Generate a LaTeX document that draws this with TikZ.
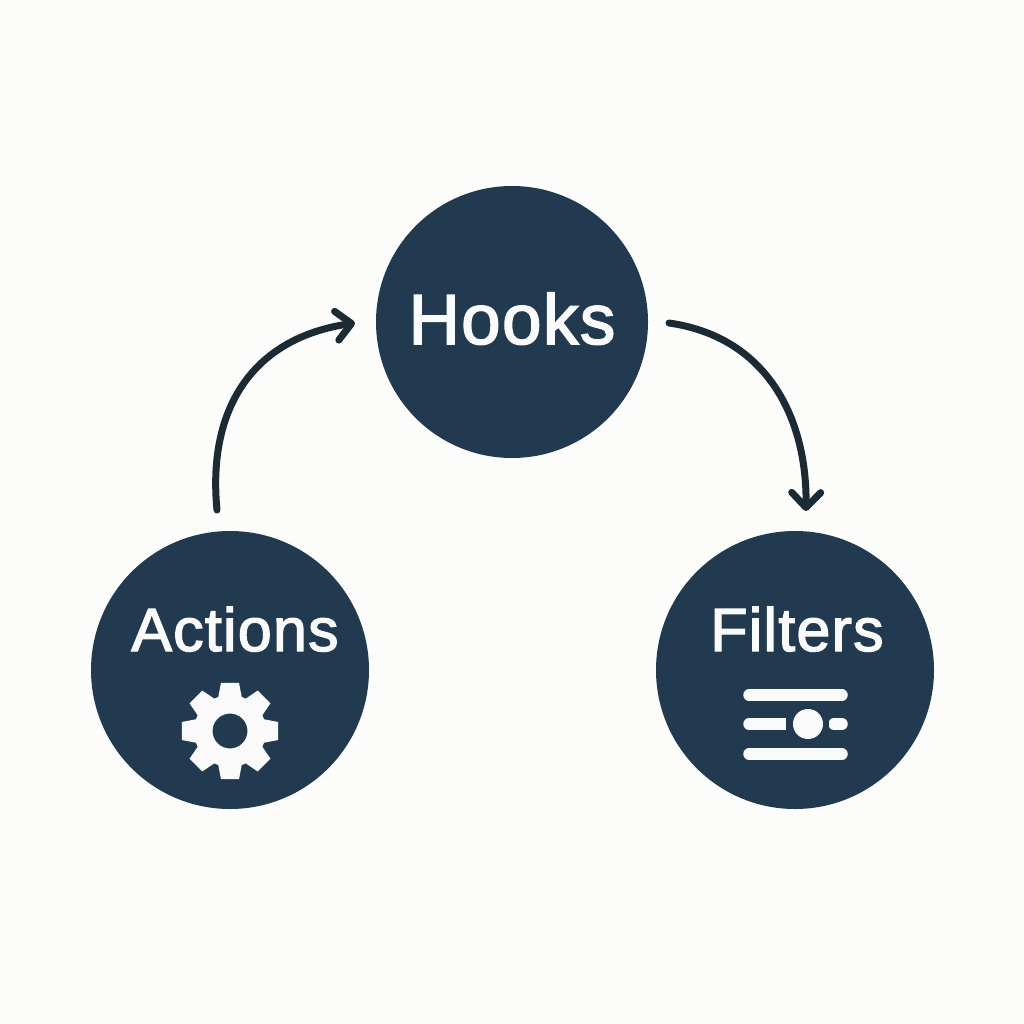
\documentclass[tikz,border=0pt]{standalone}
\usepackage{fontspec}
\setmainfont{Liberation Sans}[FakeBold=2.2,LetterSpace=2]
\usetikzlibrary{arrows.meta}
\definecolor{navy}{HTML}{213A50}
\definecolor{ink}{HTML}{1B2A33}
\definecolor{paper}{HTML}{FCFCFB}
\definecolor{snow}{HTML}{FAFAFA}
\tikzset{
  hub/.style={circle,fill=navy,draw=none,inner sep=0pt,minimum size=#1},
  lbl/.style={text=snow,inner sep=0pt,anchor=base,font=\fontsize{#1}{#1}\selectfont},
  flow/.style={draw=ink,line width=7pt,line cap=round,
    -{Straight Barb[length=15pt,width=29pt,line width=7pt,round]}},
  bar/.style={draw=snow,line width=11.5pt,line cap=round},
}
\begin{document}
\begin{tikzpicture}[x=1pt,y=-1pt]
\path[use as bounding box,fill=paper] (0,0) rectangle (1024,1024);
\node[hub=272pt] (hooks) at (512,322) {};
\node[hub=278pt] (actions) at (230,670) {};
\node[hub=278pt] (filters) at (795,670) {};
\node[lbl=71] (thooks) at (512,344) {Hooks};
\node[lbl=61] (tactions) at (235,651) {Actions};
\node[lbl=61] (tfilters) at (797,651) {Filters};
% gear
\begin{scope}[shift={(230,731)}]
  \fill[snow,even odd rule]
   (-71:36) -- (-79.4:49) -- (-100.6:49) -- (-109:36)
   \foreach \a in {-45,-90,...,-315}{
     -- (\a-71:36) -- (\a-79.4:49) -- (\a-100.6:49) -- (\a-109:36)
   } -- cycle
   (0,0) circle[radius=17.5];
\end{scope}
% filter icon
\coordinate (f1a) at (749,695); \coordinate (f1b) at (842,695);
\coordinate (f2a) at (749,724); \coordinate (f2b) at (786,724);
\coordinate (f3a) at (834,724); \coordinate (f3b) at (842,724);
\coordinate (f4a) at (749,754); \coordinate (f4b) at (842,754);
\draw[bar] (f1a) -- (f1b);
\draw[bar] (f4a) -- (f4b);
\draw[bar] (f2a) -- (f2b);
\draw[bar] (f3a) -- (f3b);
\fill[navy] (786,717) rectangle (829,731);
\fill[snow] (808,724) circle[radius=15];
% connectors
\coordinate (a1) at (217,510);
\coordinate (a2) at (355,323);
\coordinate (b1) at (669,323);
\coordinate (b2) at (806,511);
\draw[flow] (a1) .. controls (207,407) and (254,338) .. (a2);
\draw[flow] (b1) .. controls (767,337) and (807,418) .. (b2);
\end{tikzpicture}
\end{document}
